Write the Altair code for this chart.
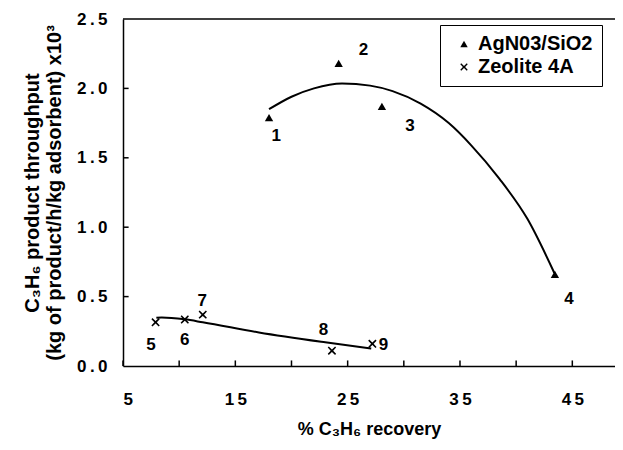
import altair as alt
import pandas as pd

# ---------------- data ----------------
ag_name = "AgN03/SiO2"
ze_name = "Zeolite 4A"

ag_x = [18.0, 24.2, 28.05, 43.45]
ag_y = [1.79, 2.18, 1.87, 0.66]
ag_id = ["1", "2", "3", "4"]

ze_x = [7.9, 10.5, 12.1, 23.6, 27.2]
ze_y = [0.315, 0.335, 0.37, 0.11, 0.16]
ze_id = ["5", "6", "7", "8", "9"]

# hand-drawn trend curves
ag_fit_x = [18.0, 20.0, 22.0, 24.5, 27.0, 29.0, 31.5, 34.0, 36.0, 38.5, 41.0, 43.4]
ag_fit_y = [1.85, 1.94, 2.00, 2.035, 2.02, 1.98, 1.89, 1.75, 1.59, 1.35, 1.06, 0.67]
ze_fit_x = [7.97, 8.45, 10.5, 12.1, 17.1, 23.0, 27.1]
ze_fit_y = [0.347, 0.35, 0.336, 0.315, 0.242, 0.171, 0.126]

# point-number annotations (data coordinates)
label_text = ag_id + ze_id
label_x = [18.65, 26.4, 30.55, 44.7, 7.5, 10.5, 12.05, 22.85, 28.2]
label_y = [1.66, 2.28, 1.73, 0.48, 0.15, 0.186, 0.467, 0.256, 0.15]

# axes
x_tick_marks = [5, 10, 15, 20, 25, 30, 35, 40, 45]
x_label_vals = [5, 15, 25, 35, 45]
x_label_text = ["5", "1\u20095", "2\u20095", "3\u20095", "4\u20095"]
y_tick_marks = [0.5, 1.0, 1.5, 2.0]
y_label_vals = [0.0, 0.5, 1.0, 1.5, 2.0, 2.5]
y_top = 2.5

# ---------------- tables ----------------
pts = pd.DataFrame({
    "x": ag_x + ze_x,
    "y": ag_y + ze_y,
    "series": [ag_name] * len(ag_x) + [ze_name] * len(ze_x),
})
fits = pd.DataFrame({
    "x": ag_fit_x + ze_fit_x,
    "y": ag_fit_y + ze_fit_y,
    "series": [ag_name] * len(ag_fit_x) + [ze_name] * len(ze_fit_x),
})
labels = pd.DataFrame({"x": label_x, "y": label_y, "t": label_text})
xt = pd.DataFrame({"t": x_tick_marks})
yt = pd.DataFrame({"t": y_tick_marks})

FONT = "Liberation Sans"
XDOM = [5, 48.8]
YDOM = [0, 2.5]
X_PATH = "M-1,-0.75L-0.75,-1L0,-0.3L0.75,-1L1,-0.75L0.3,0L1,0.75L0.75,1L0,0.3L-0.75,1L-1,0.75L-0.3,0Z"

label_expr = " : ".join(
    f"datum.value == {v} ? '{t}'" for v, t in zip(x_label_vals, x_label_text)
) + " : ''"

xscale = alt.Scale(domain=XDOM, nice=False, zero=False)
yscale = alt.Scale(domain=YDOM, nice=False, zero=False)

x_axis = alt.Axis(
    orient="bottom",
    values=x_label_vals, labelExpr=label_expr, ticks=False, grid=False,
    labelPadding=25, labelFontSize=17, title="% C\u2083H\u2086 recovery",
    titleFontSize=18, titlePadding=13,
)
y_axis = alt.Axis(
    orient="left",
    values=y_label_vals, ticks=False, grid=False,
    labelExpr="replace(format(datum.value, '.1f'), '.', '\u2009.\u2009')",
    labelPadding=16, labelFontSize=17,
    title=["\u00a0" * 5 + "C\u2083H\u2086 product throughput",
           "(kg of product/h/kg adsorbent) x10\u00b3"],
    titleFontSize=20, titlePadding=12, titleLineHeight=22,
)

points = alt.Chart(pts).mark_point(filled=True, color="black", opacity=1, size=70).encode(
    x=alt.X("x:Q", scale=xscale, axis=x_axis),
    y=alt.Y("y:Q", scale=yscale, axis=y_axis),
    shape=alt.Shape(
        "series:N",
        scale=alt.Scale(domain=[ag_name, ze_name], range=["triangle-up", X_PATH]),
        legend=alt.Legend(
            title=None, orient="none", legendX=317, legendY=6,
            strokeColor="black", fillColor="white", padding=9,
            symbolOffset=5, labelOffset=4, rowPadding=3,
            labelFontSize=20, labelFont=FONT, labelFontWeight="bold",
            symbolSize=55, symbolFillColor="black", symbolStrokeColor="black",
            labelLimit=300,
        ),
    ),
)

lines = alt.Chart(fits).mark_line(color="black", strokeWidth=2, interpolate="monotone").encode(
    x=alt.X("x:Q", scale=xscale, axis=None),
    y=alt.Y("y:Q", scale=yscale, axis=None),
    detail="series:N",
)

texts = alt.Chart(labels).mark_text(
    font=FONT, fontSize=17, fontWeight="bold", color="black", align="center", baseline="middle"
).encode(
    x=alt.X("x:Q", scale=xscale, axis=None),
    y=alt.Y("y:Q", scale=yscale, axis=None),
    text="t:N",
)

xticks = alt.Chart(xt).mark_rule(color="black", strokeWidth=1.5).encode(
    x=alt.X("t:Q", scale=xscale, axis=None),
    y=alt.YDatum(0, axis=None),
    y2=alt.Y2Datum(0.04),
)

yticks = alt.Chart(yt).mark_rule(color="black", strokeWidth=1.5).encode(
    y=alt.Y("t:Q", scale=yscale, axis=None),
    x=alt.XDatum(5, axis=None),
    x2=alt.X2Datum(5.5),
)

top_border = alt.Chart(pd.DataFrame({"v": [y_top]})).mark_rule(color="black", strokeWidth=1.5).encode(
    y=alt.Y("v:Q", scale=yscale, axis=None),
)

chart = (
    alt.layer(points, lines, texts, xticks, yticks, top_border)
    .resolve_axis(x="independent", y="independent")
    .properties(
        width=492, height=347,
        autosize=alt.AutoSizeParams(type="none"),
        padding={"left": 115, "top": 11, "right": 0, "bottom": 76},
    )
    .configure_view(stroke=None)
    .configure_axis(
        domainColor="black", domainWidth=1.5,
        labelFont=FONT, labelFontWeight="bold", labelColor="black",
        titleFont=FONT, titleFontWeight="bold", titleColor="black",
    )
)

chart.save("out.html", embed_options={"renderer": "svg", "actions": False})
